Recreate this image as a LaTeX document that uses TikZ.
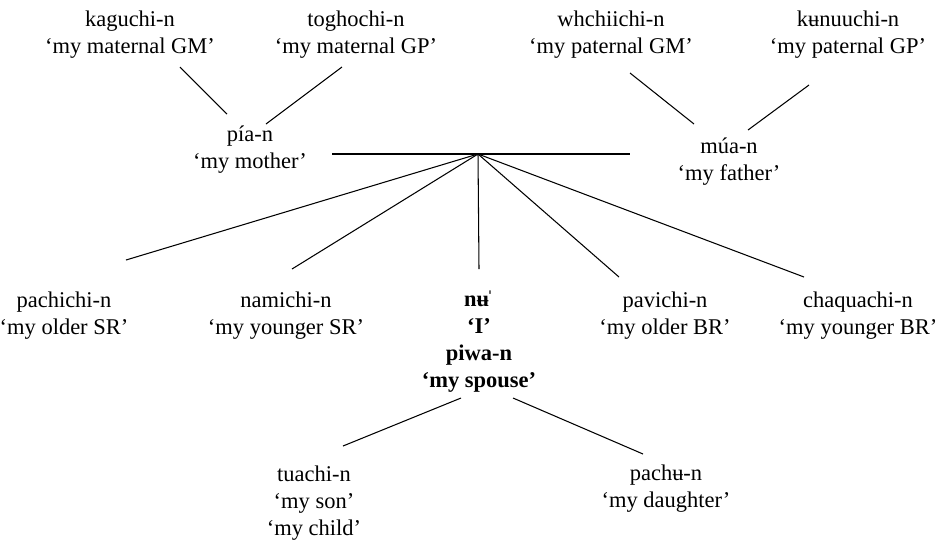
\documentclass[tikz,border=0pt]{standalone}
\usepackage{fontspec}
\setmainfont{Liberation Serif}
\usetikzlibrary{calc}

\tikzset{
  kin/.style={align=center, inner sep=0pt, font=\fontsize{12.8}{15.4}\selectfont},
  ego/.style={kin, font=\fontsize{12.8}{15.4}\selectfont\bfseries},
  tie/.style={line width=0.6pt}
}

\begin{document}
\begin{tikzpicture}[x=0.02cm, y=-0.02cm]
  \useasboundingbox (0,0) rectangle (939,539);

  % grandparents
  \node[kin] (kag) at (130,35) {kaguchi-n\\‘my maternal GM’};
  \node[kin] (tog) at (356,35) {toghochi-n\\‘my maternal GP’};
  \node[kin] (whc) at (611,35) {whchiichi-n\\‘my paternal GM’};
  \node[kin] (kun) at (848,35) {kʉnuuchi-n\\‘my paternal GP’};

  % parents
  \node[kin] (pia) at (250,150) {pía-n\\‘my mother’};
  \node[kin] (mua) at (729,162) {múa-n\\‘my father’};
  \draw[tie] ($(kag)+(50,32)$) -- ($(pia)+(-23,-36)$);
  \draw[tie] ($(tog)+(-14,32)$) -- ($(pia)+(16,-26)$);
  \draw[tie] ($(whc)+(19,38)$) -- ($(mua)+(-35,-38)$);
  \draw[tie] ($(kun)+(-39,50)$) -- ($(mua)+(19,-32)$);

  % siblings and ego
  \node[kin] (pac) at (64,316) {pachichi-n\\‘my older SR’};
  \node[kin] (nam) at (286,316) {namichi-n\\‘my younger SR’};
  \node[ego] (ego) at (479,342) {nʉ\kern-1.5pt ˈ\\‘I’\\piwa-n\\‘my spouse’};
  \node[kin] (pav) at (665,316) {pavichi-n\\‘my older BR’};
  \node[kin] (cha) at (858,316) {chaquachi-n\\‘my younger BR’};

  % parents' line and branches down to the siblings
  \coordinate (apex) at (478,154);
  \draw[tie] ($(pia)+(82,4)$) -- ($(mua)+(-99,-8)$);
  \foreach \n/\dx/\dy in {pac/62/-56, nam/6/-47, ego/0/-73, pav/-46/-39, cha/-54/-39}
    \draw[tie] (apex) -- ($(\n)+(\dx,\dy)$);

  % children
  \node[kin] (tua) at (314,503) {tuachi-n\\‘my son’\\‘my child’};
  \node[kin] (pch) at (666,489) {pachʉ-n\\‘my daughter’};
  \draw[tie] ($(ego)+(-18,56)$) -- ($(tua)+(29,-57)$);
  \draw[tie] ($(ego)+(34,56)$) -- ($(pch)+(-23,-35)$);
\end{tikzpicture}
\end{document}
